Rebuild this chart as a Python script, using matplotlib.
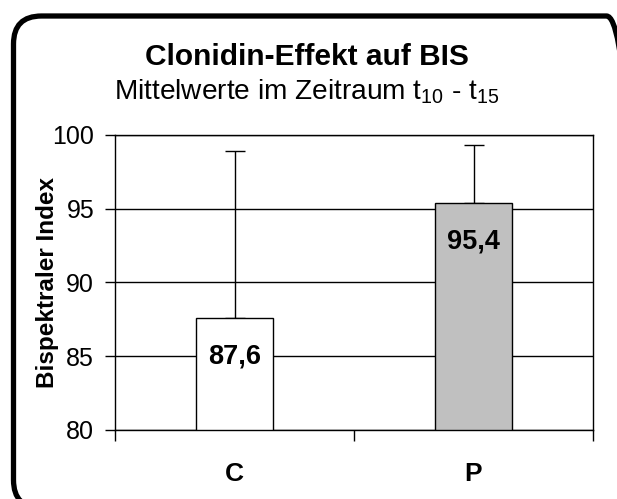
import matplotlib
matplotlib.use("Agg")
import matplotlib.pyplot as plt
from matplotlib.patches import FancyBboxPatch

plt.rcParams['font.family'] = ['Liberation Sans', 'DejaVu Sans']
plt.rcParams['mathtext.fontset'] = 'custom'
plt.rcParams['mathtext.rm'] = 'Liberation Sans'
plt.rcParams['mathtext.it'] = 'Liberation Sans'

# data
groups = ['C', 'P']
means = [87.6, 95.4]
upper_err = [11.3, 3.9]
value_labels = ['87,6', '95,4']
bar_colors = ['white', '#c0c0c0']

W, H = 617, 499
fig = plt.figure(figsize=(W / 100, H / 100), dpi=100)
ax = fig.add_axes([0.1864, 0.1383, 0.7747, 0.5912])

x = list(range(len(groups)))
ax.bar(x, [m - 80 for m in means], bottom=80, width=0.32, color=bar_colors,
       edgecolor='black', linewidth=1, zorder=3)
ax.errorbar(x, means, yerr=[[0] * len(means), upper_err], fmt='none',
            ecolor='black', elinewidth=1, capsize=7.5, capthick=1, zorder=2)

for xi, m, lab in zip(x, means, value_labels):
    ax.annotate(lab, (xi, m), xytext=(0, -28), textcoords='offset points',
                ha='center', va='center', fontsize=19.5, fontweight='bold', zorder=4)

ax.set_xlim(-0.5, 1.5)
ax.set_ylim(80, 100)
ax.set_yticks([80, 85, 90, 95, 100])
ax.tick_params(axis='y', direction='out', length=7, width=1, labelsize=18, pad=8)
ax.set_xticks([-0.5, 0.5, 1.5])
ax.set_xticklabels([])
ax.tick_params(axis='x', which='major', direction='out', length=8, width=1)
ax.set_xticks(x, minor=True)
ax.set_xticklabels(groups, minor=True, fontsize=19, fontweight='bold')
ax.tick_params(axis='x', which='minor', length=0, pad=23)
ax.yaxis.grid(True, color='black', linewidth=1, zorder=0)
ax.set_axisbelow(True)
for s in ax.spines.values():
    s.set_linewidth(1)

ax.set_ylabel('Bispektraler Index', fontsize=17.5, fontweight='bold', labelpad=-5)

fig.text(0.498, 1 - 65 / H, 'Clonidin-Effekt auf BIS', ha='center', va='baseline',
         fontsize=21.5, fontweight='bold')
fig.text(0.497, 1 - 99 / H, r'Mittelwerte im Zeitraum t$_{10}$ - t$_{15}$', ha='center',
         va='baseline', fontsize=20.2)

# rounded outer frame, right and bottom sides run just past the image edge
r = 28
frame = FancyBboxPatch((13.5 / W, -9 / H), 621 / W, 492 / H,
                       boxstyle=f'round,pad=0,rounding_size={r / W}',
                       mutation_aspect=W / H, transform=fig.transFigure,
                       facecolor='none', edgecolor='black', linewidth=3.8,
                       clip_on=False)
fig.add_artist(frame)

fig.savefig('out.png', dpi=100)
